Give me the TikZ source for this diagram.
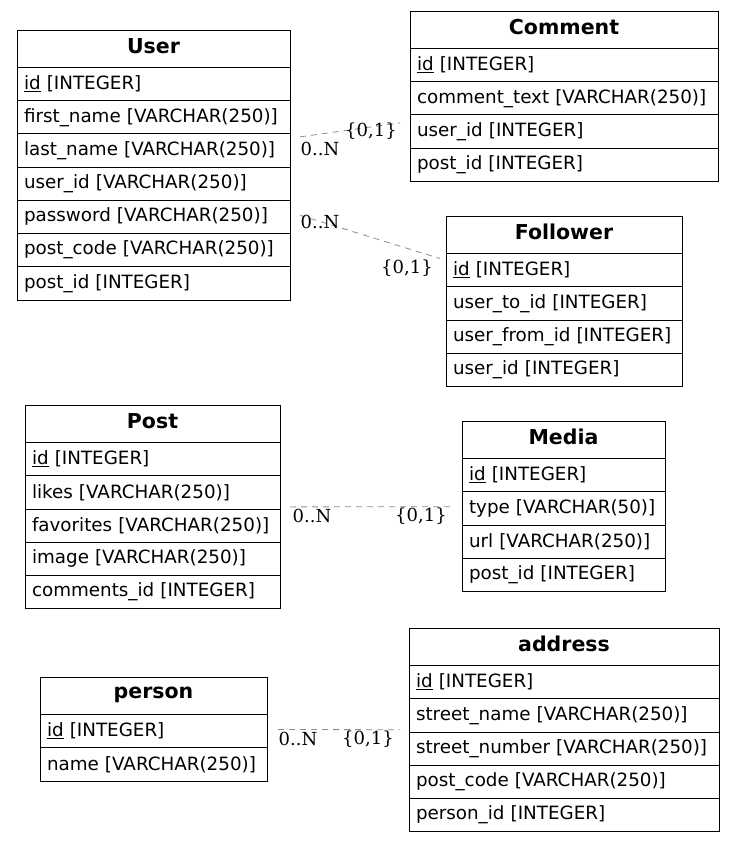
\documentclass[tikz,border=0pt]{standalone}
\usepackage{fontspec}
\setmainfont{DejaVu Sans}
\newfontfamily\cardfont{DejaVu Serif}
\usepackage{tikz}
\usetikzlibrary{positioning}
\definecolor{relcolor}{RGB}{140, 140, 140}

\begin{document}
\begin{tikzpicture}[
    x=1pt, y=-1pt,
    node distance=0pt,
    head/.style={draw, line width=0.8pt, outer sep=0pt, inner xsep=7pt, inner ysep=0pt, text width=#1, align=center, minimum height=37.5pt, text depth=6pt, font=\fontsize{20.5}{24}\selectfont\bfseries},
    field/.style={draw, line width=0.8pt, outer sep=0pt, inner xsep=7pt, inner ysep=0pt, text width=#1, align=left, minimum height=33.2pt, font=\fontsize{18.3}{22}\selectfont},
    rel/.style={relcolor, line width=0.8pt, dash pattern=on 6pt off 5pt},
    card/.style={inner sep=1pt, font=\cardfont\fontsize{18}{22}\selectfont},
]
    \useasboundingbox (0,0) rectangle (735,842);

    % User
    \node[head=259pt, anchor=north west] (user) at (17,30) {User};
    \node[field=259pt, below=of user] (user1) {\underline{id} [INTEGER]};
    \node[field=259pt, below=of user1] (user2) {first\_name [VARCHAR(250)]};
    \node[field=259pt, below=of user2] (user3) {last\_name [VARCHAR(250)]};
    \node[field=259pt, below=of user3] (user4) {user\_id [VARCHAR(250)]};
    \node[field=259pt, below=of user4] (user5) {password [VARCHAR(250)]};
    \node[field=259pt, below=of user5] (user6) {post\_code [VARCHAR(250)]};
    \node[field=259pt, below=of user6] (user7) {post\_id [INTEGER]};

    % Comment
    \node[head=294pt, anchor=north west] (comment) at (410,11) {Comment};
    \node[field=294pt, below=of comment] (comment1) {\underline{id} [INTEGER]};
    \node[field=294pt, below=of comment1] (comment2) {comment\_text [VARCHAR(250)]};
    \node[field=294pt, below=of comment2] (comment3) {user\_id [INTEGER]};
    \node[field=294pt, below=of comment3] (comment4) {post\_id [INTEGER]};

    % Follower
    \node[head=222pt, anchor=north west] (follower) at (446,216) {Follower};
    \node[field=222pt, below=of follower] (follower1) {\underline{id} [INTEGER]};
    \node[field=222pt, below=of follower1] (follower2) {user\_to\_id [INTEGER]};
    \node[field=222pt, below=of follower2] (follower3) {user\_from\_id [INTEGER]};
    \node[field=222pt, below=of follower3] (follower4) {user\_id [INTEGER]};

    % Post
    \node[head=241pt, anchor=north west] (post) at (25,405) {Post};
    \node[field=241pt, below=of post] (post1) {\underline{id} [INTEGER]};
    \node[field=241pt, below=of post1] (post2) {likes [VARCHAR(250)]};
    \node[field=241pt, below=of post2] (post3) {favorites [VARCHAR(250)]};
    \node[field=241pt, below=of post3] (post4) {image [VARCHAR(250)]};
    \node[field=241pt, below=of post4] (post5) {comments\_id [INTEGER]};

    % Media
    \node[head=189pt, anchor=north west] (media) at (462,421) {Media};
    \node[field=189pt, below=of media] (media1) {\underline{id} [INTEGER]};
    \node[field=189pt, below=of media1] (media2) {type [VARCHAR(50)]};
    \node[field=189pt, below=of media2] (media3) {url [VARCHAR(250)]};
    \node[field=189pt, below=of media3] (media4) {post\_id [INTEGER]};

    % address
    \node[head=296pt, anchor=north west] (address) at (409,628) {address};
    \node[field=296pt, below=of address] (address1) {\underline{id} [INTEGER]};
    \node[field=296pt, below=of address1] (address2) {street\_name [VARCHAR(250)]};
    \node[field=296pt, below=of address2] (address3) {street\_number [VARCHAR(250)]};
    \node[field=296pt, below=of address3] (address4) {post\_code [VARCHAR(250)]};
    \node[field=296pt, below=of address4] (address5) {person\_id [INTEGER]};

    % person
    \node[head=213pt, anchor=north west] (person) at (40,677) {person};
    \node[field=213pt, below=of person] (person1) {\underline{id} [INTEGER]};
    \node[field=213pt, below=of person1] (person2) {name [VARCHAR(250)]};

    % Relations
    \draw[rel] ([shift={(10,3)}]user3.north east) -- ([shift={(-10,8)}]comment3.north west);
    \draw[rel] ([shift={(10,15)}]user5.north east) -- ([shift={(-6,5)}]follower1.north west);
    \draw[rel] ([shift={(10,-2)}]post3.north east) -- ([shift={(-10,15)}]media2.north west);
    \draw[rel] ([shift={(11,15)}]person1.north east) -- ([shift={(-9,31)}]address2.north west);

    % Cardinalities
    \node[card] (c1t) at (320,149) {0..N};
    \node[card] (c1h) at (371,131) {\{0,1\}};
    \node[card] (c2t) at (320,222) {0..N};
    \node[card] (c2h) at (407,268) {\{0,1\}};
    \node[card] (c3t) at (312,516) {0..N};
    \node[card] (c3h) at (421,516) {\{0,1\}};
    \node[card] (c4t) at (298,739) {0..N};
    \node[card] (c4h) at (368,739) {\{0,1\}};

\end{tikzpicture}
\end{document}
